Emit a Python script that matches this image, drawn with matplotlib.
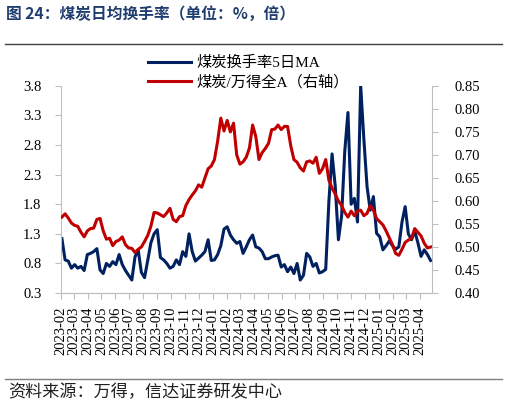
import numpy as np
import pandas as pd
import matplotlib
matplotlib.use("Agg")
from matplotlib import pyplot as plt
import matplotlib.dates as mdates

# weekly readings (Fridays), Feb 2023 .. Apr 2025
dates = pd.date_range("2023-02-03", periods=117, freq="W-FRI")

turnover_ma5 = [
    1.22, 0.86, 0.84, 0.72, 0.78, 0.72, 0.75, 0.68, 0.95, 0.97,
    1.00, 1.05, 0.69, 0.63, 0.80, 0.75, 0.83, 0.78, 0.95, 0.78,
    0.68, 0.60, 0.52, 0.91, 1.03, 0.65, 0.56, 0.85, 1.15, 1.30,
    1.37, 0.90, 0.86, 0.80, 0.72, 0.75, 0.86, 0.78, 1.00, 0.92,
    1.30, 1.00, 0.84, 0.89, 0.94, 1.00, 1.20, 0.85, 0.86, 0.95,
    1.10, 1.38, 1.42, 1.28, 1.20, 1.14, 1.17, 0.97, 1.08, 1.20,
    1.28, 1.08, 1.06, 1.00, 0.88, 0.88, 0.91, 0.93, 0.94, 0.74,
    0.78, 0.66, 0.74, 0.63, 0.80, 0.52, 0.60, 0.97, 0.91, 0.75,
    0.80, 0.64, 0.66, 0.70, 1.85, 2.65, 2.10, 1.20, 1.60, 2.70,
    3.35, 1.80, 1.90, 1.50, 3.80, 2.90, 2.10, 1.70, 1.93, 1.31,
    1.25, 1.03, 1.10, 1.18, 1.10, 1.04, 1.08, 1.50, 1.76, 1.30,
    1.20, 1.35, 1.15, 0.92, 1.03, 0.95, 0.85,
]

coal_vs_wind_a = [
    0.565, 0.572, 0.563, 0.552, 0.547, 0.545, 0.532, 0.522, 0.535, 0.540,
    0.541, 0.560, 0.562, 0.535, 0.517, 0.519, 0.503, 0.512, 0.515, 0.522,
    0.505, 0.498, 0.497, 0.488, 0.495, 0.500, 0.512, 0.525, 0.545, 0.575,
    0.574, 0.570, 0.566, 0.574, 0.584, 0.560, 0.555, 0.566, 0.568, 0.590,
    0.603, 0.613, 0.622, 0.635, 0.630, 0.650, 0.670, 0.676, 0.690, 0.730,
    0.780, 0.752, 0.775, 0.750, 0.769, 0.700, 0.680, 0.685, 0.695, 0.715,
    0.765, 0.740, 0.690, 0.705, 0.714, 0.725, 0.755, 0.756, 0.765, 0.755,
    0.762, 0.762, 0.720, 0.690, 0.684, 0.672, 0.665, 0.685, 0.687, 0.682,
    0.695, 0.660, 0.670, 0.690, 0.645, 0.628, 0.615, 0.600, 0.590, 0.575,
    0.565, 0.578, 0.568, 0.578, 0.580, 0.568, 0.573, 0.590, 0.580, 0.562,
    0.555, 0.548, 0.535, 0.520, 0.505, 0.486, 0.482, 0.495, 0.510, 0.515,
    0.519, 0.540, 0.532, 0.524, 0.508, 0.498, 0.500,
]

left_ticks = [0.3, 0.8, 1.3, 1.8, 2.3, 2.8, 3.3, 3.8]
right_ticks = [0.40, 0.45, 0.50, 0.55, 0.60, 0.65, 0.70, 0.75, 0.80, 0.85]

title = "图 24：煤炭日均换手率（单位：%，倍）"
source = "资料来源：万得，信达证券研发中心"
label_blue = "煤炭换手率5日MA"
label_red = "煤炭/万得全A（右轴）"

BLUE = "#002060"
RED = "#C00000"
GREY = "#BFBFBF"

serif = ["Liberation Serif", "Noto Sans CJK SC"]
plt.rcParams["font.family"] = serif

fig = plt.figure(figsize=(5.07, 4.07), dpi=100)
ax = fig.add_axes([0.1203, 0.280, 0.7317, 0.509])
ax2 = ax.twinx()

l1, = ax.plot(dates, turnover_ma5, color=BLUE, lw=2.2, solid_joinstyle="round")
l2, = ax2.plot(dates, coal_vs_wind_a, color=RED, lw=2.2, solid_joinstyle="round")

ax.set_ylim(0.3, 3.8)
ax.set_yticks(left_ticks)
ax.set_yticklabels([f"{v:.1f}" for v in left_ticks])
ax2.set_ylim(0.40, 0.85)
ax2.set_yticks(right_ticks)
ax2.set_yticklabels([f"{v:.2f}" for v in right_ticks])

ax.set_xlim(pd.Timestamp("2023-02-01"), pd.Timestamp("2025-04-28"))
months = pd.date_range("2023-02-01", "2025-04-01", freq="MS")
ax.set_xticks(months)
ax.xaxis.set_major_formatter(mdates.DateFormatter("%Y-%m"))
for lab in ax.get_xticklabels():
    lab.set_rotation(90)

for a in (ax, ax2):
    for s in a.spines.values():
        s.set_color(GREY)
        s.set_linewidth(0.8)
    a.spines["top"].set_visible(False)
    a.tick_params(colors=GREY, labelcolor="black", labelsize=10.5,
                  length=4, width=0.8)
ax.spines["right"].set_visible(False)
ax2.spines["left"].set_visible(False)
ax.tick_params(axis="y", pad=10)
ax2.tick_params(axis="y", pad=12)
ax.tick_params(axis="x", pad=6, labelsize=10.5)

fig.legend([l1, l2], [label_blue, label_red], loc="upper left",
           bbox_to_anchor=(148 / 507, 1 - 56 / 407), frameon=False,
           prop={"family": serif, "size": 11}, handlelength=2.8,
           handletextpad=0.35, labelspacing=0.3, borderaxespad=0,
           borderpad=0)

fig.text(6 / 507, 1 - 14 / 407, title, ha="left", va="center",
         fontsize=11.3, fontweight="bold", color="#1F3D6E",
         family=["Noto Sans CJK SC", "DejaVu Sans"])
fig.add_artist(plt.Line2D([5 / 507, 502 / 507], [1 - 44 / 407] * 2,
                          color="#404040", lw=1.0))
fig.add_artist(plt.Line2D([5 / 507, 502 / 507], [1 - 379 / 407] * 2,
                          color="#7F7F7F", lw=1.0))
fig.text(8 / 507, 1 - 392 / 407, source, ha="left", va="center",
         fontsize=12.3, style="italic", color="#202020",
         family=["Noto Sans CJK SC", "DejaVu Sans"])

fig.savefig("out.png", dpi=100)
